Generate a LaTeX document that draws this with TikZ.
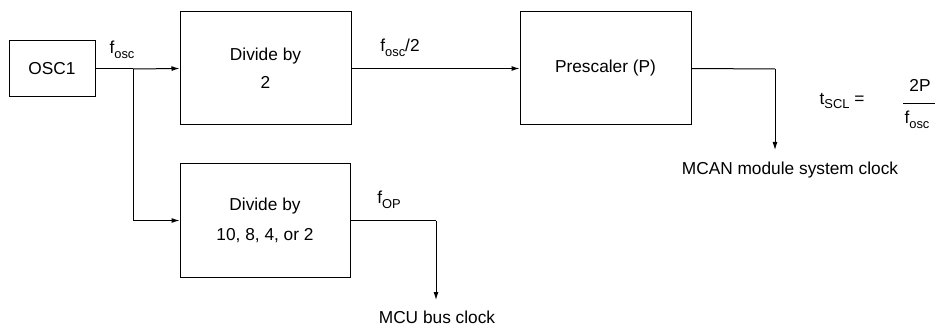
\documentclass[tikz,border=0pt]{standalone}
\usepackage{fontspec}
\setmainfont{Liberation Sans}
\usetikzlibrary{arrows.meta}

% subscript as the drawing sets it
\newcommand{\lowtxt}[1]{\raisebox{-4.5pt}{\fontsize{12.9}{13}\selectfont #1}}

\tikzset{
    block/.style={draw, line width=1pt, align=center, inner sep=0pt},
    sig/.style={line width=1pt},
    sigarrow/.style={line width=1pt, -{Latex[length=8pt,width=5pt]}},
    lbl/.style={inner sep=0pt}
}

\begin{document}
\begin{tikzpicture}[
    x=1pt, y=-1pt,
    font=\fontsize{17.3}{28}\selectfont
]
\useasboundingbox (0,0) rectangle (935,326);

% === Oscillator ===
\node[block, minimum width=86pt, minimum height=56pt] (osc) at (52,69) {OSC1};
\node[lbl] (fosc) at (122,50) {f\lowtxt{osc}};

% === Upper path ===
\node[block, minimum width=171pt, minimum height=113pt] (div2) at (265.5,68.5) {Divide by\\2};
\node[block, minimum width=171pt, minimum height=113pt] (pre) at (605.5,68.5) {Prescaler (P)};
\node[lbl] (fhalf) at (400,48) {f\lowtxt{osc}/2};

\coordinate (split) at (133,69);
\draw[sig] (osc.east) -- (split);
\draw[sigarrow] (split) -- (div2.west);
\draw[sigarrow] (div2.east) -- (pre.west);

% MCAN clock output
\coordinate (mcanbend) at (775,69);
\coordinate (mcanend) at (775,150);
\node[lbl] (mcan) at (790,170) {MCAN module system clock};
\draw[sig] (pre.east) -- (mcanbend);
\draw[sigarrow] (mcanbend) -- (mcanend);

% === Lower path ===
\node[block, minimum width=170pt, minimum height=113pt] (divn) at (265,220.5) {Divide by\\[2pt]10, 8, 4, or 2};
\node[lbl] (fop) at (389,200) {f\lowtxt{OP}};
\draw[sigarrow] (split) |- (divn.west);

% bus clock output
\coordinate (busbend) at (436,220.5);
\coordinate (busend) at (436,300);
\node[lbl] (bus) at (437,317) {MCU bus clock};
\draw[sig] (divn.east) -- (busbend);
\draw[sigarrow] (busbend) -- (busend);

% === Formula ===
\node[lbl] (tscl) at (842,101) {t\lowtxt{SCL} =};
\node[lbl] (num) at (920,85) {2P};
\node[lbl] (den) at (917,120) {f\lowtxt{osc}};
\draw[line width=0.8pt] (903,103) -- (935,103);

\end{tikzpicture}
\end{document}
